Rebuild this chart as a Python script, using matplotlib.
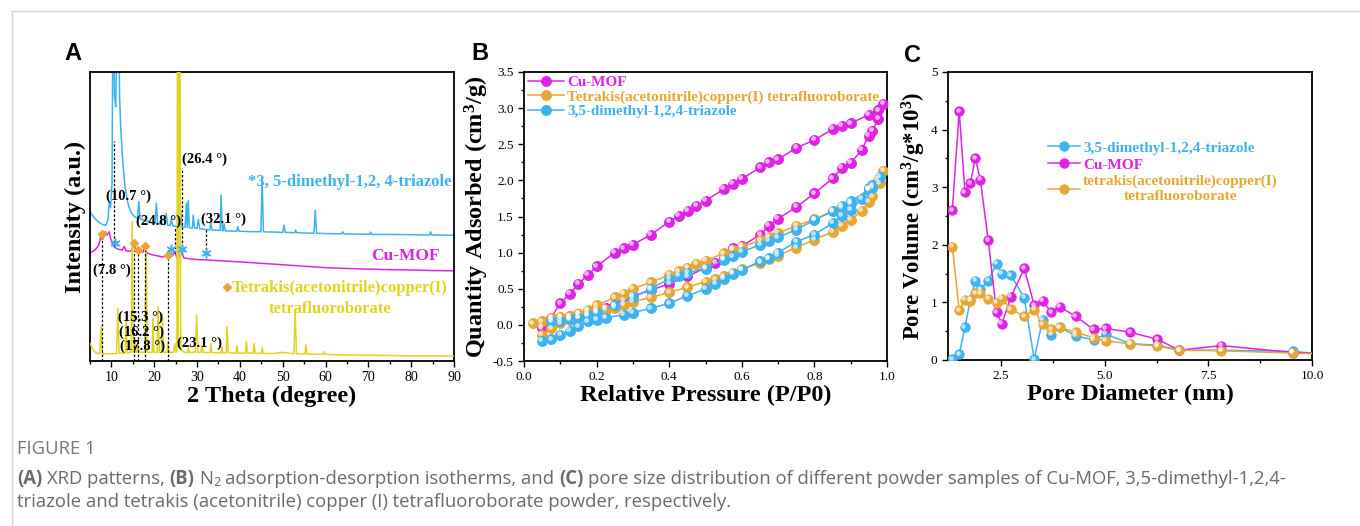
import matplotlib
matplotlib.use("Agg")
import matplotlib.pyplot as plt
from matplotlib.lines import Line2D
from matplotlib import transforms
import numpy as np

plt.rcParams.update({
    "font.family": ["Liberation Serif", "DejaVu Serif"],
    "mathtext.fontset": "custom",
    "mathtext.rm": "Liberation Serif",
    "mathtext.bf": "Liberation Serif:bold",
    "mathtext.it": "Liberation Serif:italic",
    "axes.linewidth": 1.3,
})

# ---------------- data: panel A (XRD, intensity in arbitrary units) ----------------
triazole_2theta = [5.0, 5.5, 6.0, 6.5, 7.0, 7.5, 8.0, 8.75, 9.2, 9.5, 9.8, 10.0, 10.15, 10.4, 10.7,
                   11.0, 11.6, 11.9, 12.2, 12.7, 13.2, 13.85, 14.4, 15.0, 15.6, 16.1, 16.4, 16.7,
                   17.5, 18.5, 19.5, 20.2, 20.5, 20.8, 21.3, 21.6, 21.9, 22.5, 22.8, 23.1, 23.7,
                   24.0, 24.3, 25.0, 25.9, 26.2, 26.5, 27.2, 27.5, 27.7, 27.95, 28.2, 28.9, 29.1,
                   29.4, 30.0, 30.3, 30.6, 31.5, 33.0, 33.2, 33.5, 34.2, 35.4, 35.6, 35.9, 36.1,
                   36.3, 36.6, 37.5, 39.3, 39.5, 39.8, 42.0, 44.9, 45.2, 45.5, 48.0, 50.0, 50.3,
                   50.6, 52.8, 53.0, 53.3, 55.0, 57.3, 57.6, 57.9, 60.0, 63.8, 64.0, 64.3, 67.0,
                   70.3, 70.5, 70.8, 75.0, 80.0, 84.3, 84.5, 84.8, 90.0]
triazole_int = [51.7, 50.6, 49.6, 48.8, 48.1, 47.6, 47.2, 47.0, 49.0, 55.0, 53.0, 58.0, 62.0, 140.0, 92.0,
                88.0, 140.0, 92.0, 80.0, 68.0, 60.0, 54.6, 52.0, 50.5, 49.8, 49.5, 55.1, 49.2,
                48.8, 48.3, 47.9, 47.7, 54.6, 47.6, 47.4, 49.5, 47.3, 47.2, 51.0, 47.0, 46.9,
                49.0, 46.8, 46.6, 46.5, 52.0, 46.4, 46.3, 54.6, 46.2, 55.5, 46.1, 46.0, 50.5,
                46.0, 45.9, 49.0, 45.8, 45.6, 45.4, 47.8, 45.3, 45.3, 45.2, 57.4, 45.1, 45.1,
                47.5, 45.0, 45.0, 44.9, 46.5, 44.9, 44.8, 44.7, 62.6, 44.7, 44.6, 44.5, 47.0,
                44.5, 44.4, 45.3, 44.4, 44.3, 44.2, 52.2, 44.2, 44.1, 44.0, 44.7, 44.0, 43.9,
                43.9, 44.6, 43.8, 43.8, 43.7, 43.6, 44.7, 43.6, 43.5]

cumof_2theta = [5.0, 5.5, 6.0, 6.5, 7.0, 7.3, 7.6, 7.9, 8.2, 8.6, 8.9, 9.2, 9.5, 9.8, 10.2, 10.7,
                11.2, 11.8, 12.5, 13.0, 13.4, 14.0, 14.8, 15.3, 15.7, 16.2, 16.6, 17.4, 17.8,
                18.2, 19.0, 20.0, 21.0, 22.0, 23.1, 23.5, 24.3, 24.8, 25.3, 26.0, 26.4, 26.9,
                28.0, 30.0, 32.0, 35.0, 40.0, 45.0, 50.0, 55.0, 60.0, 65.0, 70.0, 75.0, 80.0,
                85.0, 90.0]
cumof_int = [37.4, 37.8, 38.3, 39.0, 40.0, 41.5, 43.5, 42.0, 43.0, 44.7, 43.5, 44.0, 44.7, 42.5,
             40.5, 39.5, 38.9, 38.6, 38.4, 39.6, 38.2, 38.0, 38.2, 41.0, 38.2, 39.2, 37.8, 37.7,
             40.0, 37.5, 37.0, 36.6, 36.3, 36.0, 36.8, 35.6, 36.6, 37.8, 35.8, 36.4, 37.6, 35.7,
             35.4, 35.1, 35.0, 34.7, 34.3, 33.8, 33.3, 32.8, 32.3, 32.0, 31.8, 31.6, 31.5,
             31.3, 31.2]

tetrakis_2theta = [5.0, 5.5, 6.0, 6.5, 7.3, 7.6, 7.9, 9.0, 10.0, 11.2, 11.5, 11.8, 13.2, 13.45, 13.7,
                   14.6, 14.85, 15.1, 15.4, 15.7, 16.0, 16.2, 16.5, 17.8, 18.1, 18.4, 19.5, 19.7,
                   19.9, 20.7, 20.9, 21.2, 21.7, 21.9, 22.2, 23.0, 23.2, 23.5, 24.5, 24.8, 25.1,
                   25.3, 25.45, 25.65, 25.95, 26.2, 27.0, 27.8, 28.0, 28.2, 29.6, 29.9, 30.2,
                   30.9, 31.1, 31.4, 33.0, 33.2, 33.5, 35.6, 35.8, 36.0, 36.8, 37.0, 37.3, 39.1,
                   39.3, 39.6, 41.3, 41.5, 41.8, 43.1, 43.3, 43.6, 45.0, 45.2, 45.5, 48.0, 50.0,
                   52.6, 52.9, 53.2, 55.2, 55.4, 55.7, 59.5, 59.7, 60.0, 65.0, 70.0, 75.0, 80.0,
                   85.0, 90.0]
tetrakis_int = [6.1, 4.5, 3.3, 2.7, 2.6, 11.9, 2.6, 2.5, 2.5, 2.6, 18.2, 2.7, 2.8, 14.7, 2.8,
                3.0, 48.2, 3.0, 8.0, 3.0, 3.0, 6.0, 3.0, 3.0, 39.5, 3.0, 3.0, 14.7,
                3.0, 3.0, 18.8, 3.0, 3.0, 16.1, 3.0, 3.0, 6.5, 3.0, 3.0, 6.0, 3.0,
                3.5, 150.0, 5.0, 150.0, 4.0, 3.0, 3.0, 4.5, 3.0, 3.0, 15.9, 3.0,
                3.0, 5.5, 3.0, 2.9, 6.2, 2.9, 2.8, 5.0, 2.8, 2.8, 11.9, 2.8, 2.7,
                5.3, 2.7, 2.7, 6.7, 2.7, 2.7, 6.0, 2.7, 2.6, 4.5, 2.6, 2.6, 3.0,
                2.5, 17.6, 2.5, 2.4, 5.5, 2.4, 2.3, 3.3, 2.3, 2.1, 2.0, 1.9, 1.8,
                1.8, 1.7]

# dotted reference lines: angle, lower end, upper end
ref_angles = [7.8, 10.7, 15.3, 16.2, 17.8, 23.1, 24.8, 26.4, 32.1]
ref_low = [0.0, 39.5, 0.0, 0.0, 0.0, 0.0, 37.3, 39.4, 37.0]
ref_high = [42.5, 76.0, 40.5, 38.0, 39.0, 36.0, 45.9, 66.8, 46.0]
ref_labels = ["(7.8 °)", "(10.7 °)", "(15.3 °)", "(16.2 °)", "(17.8 °)", "(23.1 °)",
              "(24.8 °)", "(26.4 °)", "(32.1 °)"]
ref_label_x = [10.1, 14.1, 16.8, 17.1, 17.2, 30.5, 21.0, 31.7, 36.1]
ref_label_y = [31.5, 56.9, 15.3, 10.1, 5.2, 6.1, 48.2, 69.8, 49.1]

diamond_x = [7.8, 15.3, 16.2, 17.8, 23.1]
diamond_y = [44.0, 41.0, 38.4, 39.8, 36.7]
star_x = [10.9, 24.0, 26.6, 32.1]
star_y = [40.7, 38.9, 38.9, 37.5]

# ---------------- data: panel B (N2 isotherms) ----------------
cumof_p_ads = [0.05, 0.075, 0.10, 0.126, 0.15, 0.176, 0.20, 0.226, 0.25, 0.275, 0.30, 0.35, 0.40,
               0.45, 0.50, 0.527, 0.551, 0.576, 0.60, 0.651, 0.675, 0.70, 0.75, 0.80, 0.851,
               0.876, 0.90, 0.93, 0.95, 0.96, 0.976, 0.99]
cumof_v_ads = [-0.05, 0.06, 0.10, 0.12, 0.15, 0.18, 0.21, 0.24, 0.27, 0.34, 0.40, 0.48, 0.57,
               0.67, 0.79, 0.86, 0.92, 1.06, 1.09, 1.25, 1.37, 1.47, 1.63, 1.82, 2.03,
               2.17, 2.24, 2.42, 2.62, 2.69, 2.85, 3.06]
cumof_p_des = [0.976, 0.95, 0.90, 0.876, 0.851, 0.80, 0.75, 0.70, 0.675, 0.651, 0.60, 0.576,
               0.551, 0.50, 0.475, 0.452, 0.426, 0.40, 0.35, 0.30, 0.275, 0.25, 0.20, 0.176,
               0.15, 0.126, 0.10, 0.075, 0.05]
cumof_v_des = [2.97, 2.91, 2.79, 2.75, 2.71, 2.56, 2.45, 2.29, 2.25, 2.18, 2.02, 1.95,
               1.88, 1.72, 1.65, 1.58, 1.51, 1.43, 1.25, 1.11, 1.06, 1.00, 0.81, 0.69,
               0.57, 0.43, 0.30, 0.10, -0.02]

tetra_p_ads = [0.05, 0.075, 0.10, 0.126, 0.15, 0.176, 0.20, 0.226, 0.25, 0.275, 0.30, 0.35, 0.40,
               0.45, 0.50, 0.527, 0.551, 0.576, 0.60, 0.651, 0.675, 0.70, 0.75, 0.80, 0.851,
               0.876, 0.90, 0.93, 0.95, 0.96, 0.98, 0.99]
tetra_v_ads = [-0.14, -0.05, 0.02, 0.07, 0.10, 0.14, 0.18, 0.21, 0.24, 0.28, 0.32, 0.38, 0.45,
               0.52, 0.60, 0.63, 0.67, 0.72, 0.77, 0.86, 0.91, 0.96, 1.07, 1.18, 1.29,
               1.37, 1.45, 1.58, 1.70, 1.78, 1.96, 2.13]
tetra_p_des = [0.975, 0.95, 0.90, 0.876, 0.851, 0.80, 0.75, 0.70, 0.675, 0.651, 0.60, 0.576,
               0.551, 0.50, 0.475, 0.45, 0.426, 0.40, 0.35, 0.30, 0.275, 0.25, 0.20, 0.176,
               0.15, 0.126, 0.10, 0.075, 0.05, 0.025]
tetra_v_des = [2.01, 1.87, 1.68, 1.62, 1.57, 1.46, 1.37, 1.27, 1.22, 1.17, 1.08, 1.04,
               0.99, 0.89, 0.84, 0.79, 0.74, 0.69, 0.59, 0.50, 0.43, 0.38, 0.27, 0.21,
               0.15, 0.12, 0.11, 0.09, 0.05, 0.02]

triaz_p_ads = [0.05, 0.075, 0.10, 0.126, 0.15, 0.176, 0.20, 0.226, 0.275, 0.30, 0.35, 0.40, 0.45,
               0.50, 0.527, 0.551, 0.576, 0.60, 0.651, 0.675, 0.70, 0.75, 0.80, 0.851, 0.876,
               0.90, 0.93, 0.95, 0.96, 0.98]
triaz_v_ads = [-0.22, -0.20, -0.14, -0.08, -0.02, 0.05, 0.07, 0.10, 0.14, 0.17, 0.23, 0.30, 0.40,
               0.50, 0.57, 0.64, 0.71, 0.76, 0.88, 0.92, 1.00, 1.15, 1.25, 1.41, 1.51,
               1.59, 1.74, 1.89, 1.93, 2.05]
triaz_p_des = [0.96, 0.95, 0.90, 0.876, 0.851, 0.80, 0.75, 0.70, 0.675, 0.651, 0.60, 0.576,
               0.551, 0.50, 0.45, 0.426, 0.40, 0.35, 0.30, 0.25, 0.20, 0.176, 0.15, 0.126,
               0.10, 0.075]
triaz_v_des = [1.90, 1.87, 1.71, 1.65, 1.58, 1.45, 1.32, 1.21, 1.16, 1.11, 1.01, 0.95,
               0.90, 0.78, 0.72, 0.68, 0.64, 0.50, 0.38, 0.27, 0.17, 0.13, 0.10, 0.08,
               0.06, 0.05]

# ---------------- data: panel C (pore size distribution) ----------------
pore_d = [1.325, 1.49, 1.63, 1.76, 1.88, 2.0, 2.19, 2.39, 2.52, 2.74, 3.06, 3.30, 3.5, 3.71,
          3.92, 4.30, 4.73, 5.03, 5.62, 6.27, 6.80, 7.81, 9.54, 10.3]
cumof_pv = [2.60, 4.32, 2.91, 3.07, 3.50, 3.13, 2.08, 0.83, 0.63, 1.10, 1.59, 0.95, 1.03, 0.83,
            0.92, 0.76, 0.53, 0.55, 0.48, 0.36, 0.17, 0.25, 0.13, 0.11]
triaz_pv = [0.01, 0.10, 0.57, 1.05, 1.38, 1.23, 1.38, 1.67, 1.50, 1.47, 1.08, 0.01, 0.70, 0.44,
            0.57, 0.42, 0.35, 0.45, 0.28, 0.26, 0.17, 0.17, 0.15, 0.10]
tetra_pv = [1.97, 0.86, 1.05, 1.03, 1.16, 1.16, 1.06, 0.99, 1.06, 0.88, 0.76, 0.87, 0.62, 0.53,
            0.57, 0.48, 0.39, 0.33, 0.28, 0.24, 0.17, 0.16, 0.12, 0.10]

# ---------------- style ----------------
BLUE = "#3cb2f0"
MAG = "#e022e6"
YEL = "#e2d41e"
ORG = "#e8a632"
W, H = 1360, 526
LABEL_FS = 17.5

fig = plt.figure(figsize=(W / 100, H / 100), dpi=100)


def frac_rect(x0, y0, x1, y1):
    return [x0 / W, 1 - y1 / H, (x1 - x0) / W, (y1 - y0) / H]


def style_axes(ax, labelsize=9):
    ax.tick_params(which="both", direction="out", top=False, right=False,
                   labelsize=labelsize, width=1.0)
    ax.tick_params(which="major", length=4)
    ax.tick_params(which="minor", length=2.5)
    for s in ax.spines.values():
        s.set_linewidth(1.3)


BOLD = dict(family="Liberation Serif", weight="bold")

# ---------------- panel A ----------------
axA = fig.add_axes(frac_rect(90, 72, 454, 361))
axA.plot(tetrakis_2theta, tetrakis_int, color=YEL, lw=1.1, zorder=3)
axA.plot(cumof_2theta, cumof_int, color=MAG, lw=1.1, zorder=2)
axA.plot(triazole_2theta, triazole_int, color=BLUE, lw=1.1, zorder=2)
axA.set_xlim(5, 90)
axA.set_ylim(0, 100)
axA.set_yticks([])
axA.set_xticks(np.arange(10, 91, 10))
axA.set_xticks(np.arange(5, 90, 10), minor=True)
style_axes(axA, 10)
for a, lo, hi in zip(ref_angles, ref_low, ref_high):
    axA.plot([a, a], [lo, hi], color="black", lw=0.9, ls=(0, (2, 1.5)), zorder=4)
for s, x, y in zip(ref_labels, ref_label_x, ref_label_y):
    axA.text(x, y, s, ha="center", va="center", fontsize=10.5, zorder=5, **BOLD)
axA.plot(diamond_x, diamond_y, ls="none", marker="D", ms=4.5, color=ORG, zorder=5)
axA.plot(star_x, star_y, ls="none", marker=(6, 2, 0), ms=7, mew=1.1, color=BLUE, zorder=5)
axA.text(41.8, 62.0, "*3, 5-dimethyl-1,2, 4-triazole", color=BLUE, fontsize=12,
         ha="left", va="center", **BOLD)
axA.text(78.6, 36.3, "Cu-MOF", color=MAG, fontsize=12.5, ha="center", va="center", **BOLD)
axA.plot([37.0], [25.6], ls="none", marker="D", ms=4.5, color=ORG)
axA.text(38.2, 25.2, "Tetrakis(acetonitrile)copper(I)", color=YEL, fontsize=12,
         ha="left", va="center", **BOLD)
axA.text(61.0, 17.9, "tetrafluoroborate", color=YEL, fontsize=12, ha="center",
         va="center", **BOLD)
axA.set_xlabel("2 Theta (degree)", fontsize=LABEL_FS, labelpad=1, **BOLD)
axA.set_ylabel("Intensity (a.u.)", fontsize=LABEL_FS, labelpad=3, **BOLD)


def sphere_plot(ax, x, y, color, ms, label=None, lw=1.1):
    line, = ax.plot(x, y, color=color, lw=lw, marker="o", ms=ms, mfc=color,
                    mec=color, mew=0.6, label=label, zorder=3)
    hl = transforms.offset_copy(ax.transData, fig=fig, x=-ms * 0.17, y=ms * 0.17, units="points")
    ax.plot(x, y, ls="none", marker="o", ms=ms * 0.35, color="white", alpha=0.55,
            transform=hl, zorder=4, clip_on=True)
    return line


# ---------------- panel B ----------------
axB = fig.add_axes(frac_rect(524, 72, 887, 361))
sphere_plot(axB, cumof_p_ads + cumof_p_des, cumof_v_ads + cumof_v_des, MAG, 7.2, "Cu-MOF")
sphere_plot(axB, tetra_p_ads + tetra_p_des, tetra_v_ads + tetra_v_des, ORG, 7.2,
            "Tetrakis(acetonitrile)copper(I) tetrafluoroborate")
sphere_plot(axB, triaz_p_ads + triaz_p_des, triaz_v_ads + triaz_v_des, BLUE, 7.2,
            "3,5-dimethyl-1,2,4-triazole")
axB.set_xlim(0, 1.0)
axB.set_ylim(-0.5, 3.5)
axB.set_xticks(np.arange(0, 1.01, 0.2))
axB.set_xticks(np.arange(0.1, 1.0, 0.2), minor=True)
axB.set_yticks(np.arange(-0.5, 3.51, 0.5))
axB.set_yticks(np.arange(-0.25, 3.5, 0.5), minor=True)
axB.xaxis.set_major_formatter(matplotlib.ticker.FormatStrFormatter("%.1f"))
axB.yaxis.set_major_formatter(matplotlib.ticker.FormatStrFormatter("%.1f"))
style_axes(axB, 9.5)
legB = axB.legend(loc="upper left", bbox_to_anchor=(0.0, 1.0), frameon=False,
                  handlelength=2.4, handletextpad=0.2, labelspacing=0.05, borderaxespad=0.1,
                  borderpad=0.15, labelcolor="linecolor",
                  prop=dict(family="Liberation Serif", weight="bold", size=10.9))
axB.set_xlabel("Relative Pressure (P/P0)", fontsize=LABEL_FS, labelpad=1, **BOLD)
axB.set_ylabel(r"Quantity Adsorbed (cm$^\mathbf{3}$/g)", fontsize=LABEL_FS, labelpad=1, **BOLD)

# ---------------- panel C ----------------
axC = fig.add_axes(frac_rect(948, 72, 1312, 360))
sphere_plot(axC, pore_d, triaz_pv, BLUE, 6.8, "3,5-dimethyl-1,2,4-triazole")
sphere_plot(axC, pore_d, cumof_pv, MAG, 6.8, "Cu-MOF")
sphere_plot(axC, pore_d, tetra_pv, ORG, 6.8, "tetrakis(acetonitrile)copper(I)\ntetrafluoroborate")
axC.set_xlim(1.22, 10.0)
axC.set_ylim(0, 5)
axC.set_xticks([2.5, 5.0, 7.5, 10.0])
axC.set_xticks([3.75, 6.25, 8.75], minor=True)
axC.set_yticks(np.arange(0, 5.1, 1))
axC.set_yticks(np.arange(0.5, 5, 1), minor=True)
axC.xaxis.set_major_formatter(matplotlib.ticker.FormatStrFormatter("%.1f"))
style_axes(axC, 9.5)
legC = axC.legend(loc="upper left", bbox_to_anchor=(0.275, 0.76), frameon=False,
                  handlelength=2.1, handletextpad=0.2, labelspacing=0.2, borderaxespad=0.0,
                  borderpad=0.0, labelcolor="linecolor",
                  prop=dict(family="Liberation Serif", weight="bold", size=11))
for t in legC.get_texts():
    t.set_multialignment("center")
axC.set_xlabel("Pore Diameter (nm)", fontsize=LABEL_FS, labelpad=1, **BOLD)
axC.set_ylabel(r"Pore Volume (cm$^\mathbf{3}$/g*10$^\mathbf{3}$)", fontsize=16.5, labelpad=2, **BOLD)

# ---------------- panel letters ----------------
for letter, px, py in [("A", 73, 54), ("B", 480, 54), ("C", 913, 56)]:
    fig.text(px / W, 1 - py / H, letter, fontsize=17, fontweight="bold",
             family="Liberation Sans", ha="center", va="center")

# ---------------- card frame ----------------
fig.add_artist(Line2D([12 / W, 1.0], [1 - 11 / H, 1 - 11 / H], color="#d4d4d4", lw=1.0))
fig.add_artist(Line2D([12 / W, 12 / W], [0.0, 1 - 11 / H], color="#d4d4d4", lw=1.0))

# ---------------- caption ----------------
CAP = "#6a6a6a"
renderer = fig.canvas.get_renderer()


def measure(s, **kw):
    t = fig.text(0, 0, s, **kw)
    w = t.get_window_extent(renderer).width
    t.remove()
    return w


def seq_text(x0, yc, pieces, size, draw=True):
    base = dict(family="Open Sans", color=CAP)
    sp = measure("x x", fontsize=size, **base) - measure("xx", fontsize=size, **base)
    x = x0
    for s, weight, scale, dy in pieces:
        lead = len(s) - len(s.lstrip(" "))
        trail = len(s) - len(s.rstrip(" "))
        core = s.strip(" ")
        x += lead * sp
        t = fig.text(x / W, 1 - (yc - dy) / H, core, fontsize=size * scale,
                     fontweight=weight, ha="left", va="center", **base)
        x += t.get_window_extent(renderer).width
        x += trail * sp
        if not draw:
            t.remove()
    return x


line1 = [("(A)", "bold", 1, 0), (" XRD patterns, ", "normal", 1, 0),
         ("(B)", "bold", 1, 0), (" N", "normal", 1, 0), ("2", "normal", 0.7, -3.5),
         (" adsorption-desorption isotherms, and ", "normal", 1, 0),
         ("(C)", "bold", 1, 0),
         (" pore size distribution of different powder samples of Cu-MOF, 3,5-dimethyl-1,2,4-",
          "normal", 1, 0)]
line2 = [("triazole and tetrakis (acetonitrile) copper (I) tetrafluoroborate powder, respectively.",
          "normal", 1, 0)]
base_size = 11.0
w_base = seq_text(17, 479, line1, base_size, draw=False) - 17
cap_size = base_size * 1273.0 / w_base
fig.text(17 / W, 1 - 449 / H, "FIGURE 1", fontsize=cap_size, color="#777777",
         family="Open Sans", ha="left", va="center")
seq_text(17, 479, line1, cap_size)
seq_text(17, 502, line2, cap_size)

fig.savefig("out.png", dpi=100)
